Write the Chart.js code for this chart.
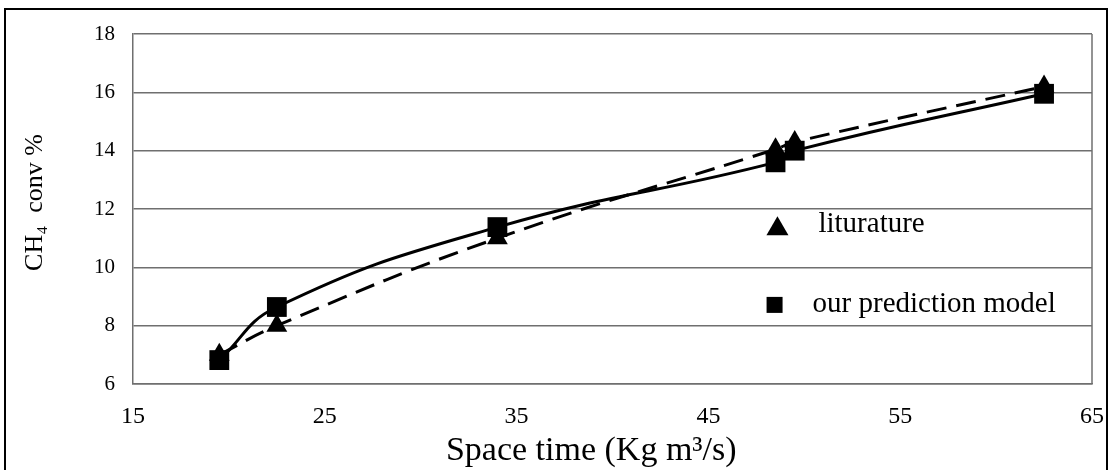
<!DOCTYPE html>
<html>
<head>
<meta charset="utf-8">
<script src="https://cdn.jsdelivr.net/npm/chart.js@4/dist/chart.umd.min.js"></script>
<style>
  body { margin: 0; background: #fff; overflow: hidden; }
  #frame { position: absolute; left: 4px; top: 8px; width: 1100px; height: 470px; border: 2px solid #000; }
  canvas { display: block; }
</style>
</head>
<body>
<div id="frame"><canvas id="chart" width="1100" height="470"></canvas></div>
<script>
// Data
const spaceTime = [19.5, 22.5, 34.0, 48.5, 49.5, 62.5];
const predicted = [6.82, 8.64, 11.38, 13.6, 14.0, 15.95];
const literature = [7.0, 8.0, 11.0, 14.05, 14.3, 16.2];
const xTicks = [15, 25, 35, 45, 55, 65];
const yTicks = [6, 8, 10, 12, 14, 16, 18];

const serif = '"Liberation Serif", "Times New Roman", serif';
const gridGray = '#6f6f6f';

// right edge of the plot box
const boxPlugin = {
    id: 'box',
    afterDraw(chart) {
        const a = chart.chartArea;
        const ctx = chart.ctx;
        ctx.save();
        ctx.strokeStyle = gridGray;
        ctx.lineWidth = 1.5;
        ctx.beginPath();
        ctx.moveTo(a.right, a.top);
        ctx.lineTo(a.right, a.bottom);
        ctx.stroke();
        ctx.restore();
    }
};

// legend placed inside the plot, like the original
const insideLegend = {
    id: 'insideLegend',
    afterDraw(chart) {
        const a = chart.chartArea;
        const ctx = chart.ctx;
        const w = a.right - a.left, h = a.bottom - a.top;
        ctx.save();
        ctx.fillStyle = '#000';
        ctx.textBaseline = 'middle';

        // triangle entry
        let cx = a.left + w * 0.672, cy = a.top + h * 0.549;
        ctx.beginPath();
        ctx.moveTo(cx, cy - 10);
        ctx.lineTo(cx + 11, cy + 9);
        ctx.lineTo(cx - 11, cy + 9);
        ctx.closePath();
        ctx.fill();
        ctx.font = '29px ' + serif;
        ctx.fillText('liturature', cx + 41, cy - 2);

        // square entry
        cx = a.left + w * 0.669; cy = a.top + h * 0.774;
        ctx.fillRect(cx - 8, cy - 8, 16, 16);
        ctx.font = '29px ' + serif;
        ctx.fillText('our prediction model', cx + 38, cy - 1);
        ctx.restore();
    }
};

new Chart(document.getElementById('chart'), {
    type: 'scatter',
    data: {
        datasets: [
            {
                label: 'our prediction model',
                data: spaceTime.map((x, i) => ({ x: x, y: predicted[i] })),
                showLine: true,
                tension: 0.45,
                borderColor: '#000',
                backgroundColor: '#000',
                borderWidth: 3,
                pointStyle: 'rect',
                pointRadius: 14,
                pointBorderWidth: 0,
                order: 0
            },
            {
                label: 'liturature',
                data: spaceTime.map((x, i) => ({ x: x, y: literature[i] })),
                showLine: true,
                tension: 0.45,
                borderColor: '#000',
                backgroundColor: '#000',
                borderWidth: 3,
                borderDash: [20, 10],
                pointStyle: 'triangle',
                pointRadius: 12,
                pointBorderWidth: 0,
                order: 1
            }
        ]
    },
    options: {
        responsive: false,
        animation: false,
        devicePixelRatio: 1,
        layout: { autoPadding: false, padding: { left: 0, right: 14, top: 24, bottom: 0 } },
        plugins: {
            legend: { display: false },
            tooltip: { enabled: false }
        },
        scales: {
            x: {
                type: 'linear',
                min: xTicks[0],
                max: xTicks[xTicks.length - 1],
                afterBuildTicks: s => { s.ticks = xTicks.map(v => ({ value: v })); },
                afterFit: s => { s.height = 96; s.paddingLeft = 0; s.paddingRight = 0; },
                grid: { display: false, drawTicks: false },
                border: { display: true, color: gridGray, width: 1.5 },
                ticks: { color: '#000', padding: 18, font: { family: serif, size: 24 } },
                title: {
                    display: true,
                    text: 'Space time (Kg m³/s)     ',
                    color: '#000',
                    align: 'center',
                    padding: { top: 0, bottom: 9 },
                    font: { family: serif, size: 34 }
                }
            },
            y: {
                type: 'linear',
                min: yTicks[0],
                max: yTicks[yTicks.length - 1],
                afterBuildTicks: s => { s.ticks = yTicks.map(v => ({ value: v })); },
                afterFit: s => { s.width = 127; s.paddingTop = 0; s.paddingBottom = 0; },
                grid: { color: gridGray, lineWidth: 1.5, drawTicks: false },
                border: { display: true, color: gridGray, width: 1.5 },
                ticks: { color: '#000', padding: 18, font: { family: serif, size: 21 } },
                title: {
                    display: true,
                    text: '  CH₄  conv %',
                    color: '#000',
                    padding: { top: 14, bottom: 0 },
                    font: { family: serif, size: 26 }
                }
            }
        }
    },
    plugins: [boxPlugin, insideLegend]
});
</script>
</body>
</html>
